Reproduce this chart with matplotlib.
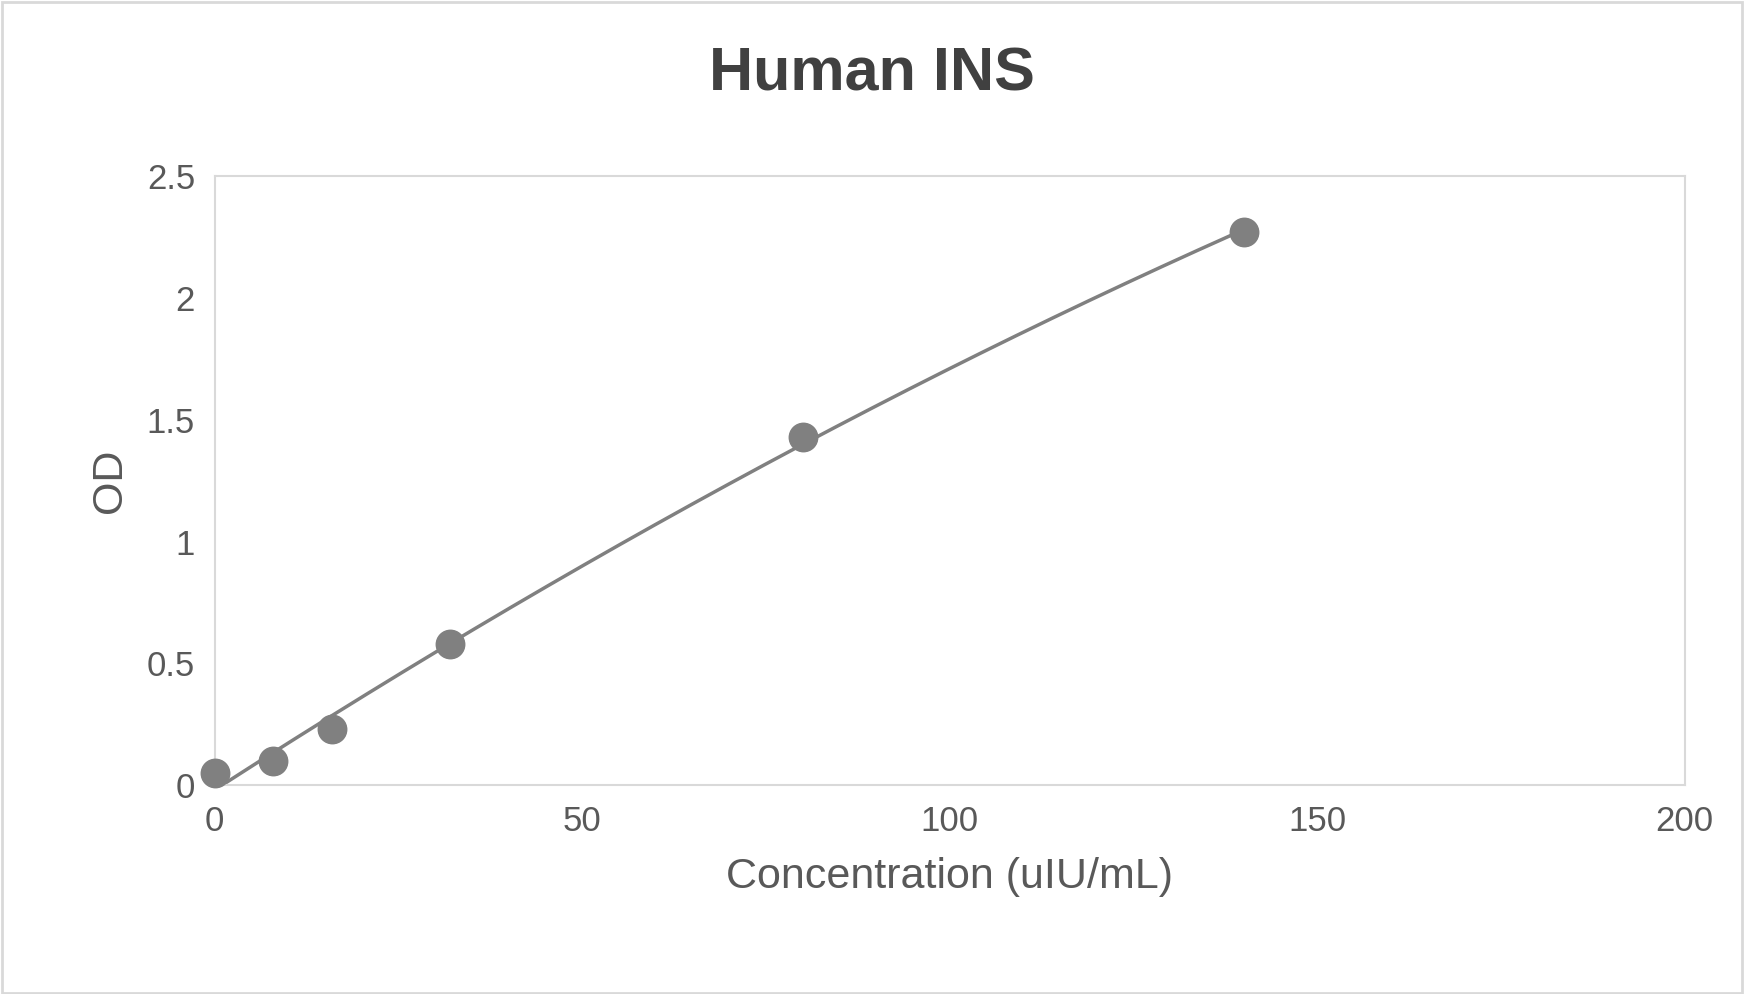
import numpy as np
import matplotlib
matplotlib.use("Agg")
import matplotlib.pyplot as plt
from matplotlib.patches import Rectangle

conc = [0, 8, 16, 32, 80, 140]
od = [0.05, 0.10, 0.23, 0.58, 1.43, 2.27]

plt.rcParams['font.family'] = ['Liberation Sans', 'DejaVu Sans']
fig = plt.figure(figsize=(17.44, 9.94), dpi=100)
fig.patches.append(Rectangle((0.001, 0.001), 0.998, 0.997, transform=fig.transFigure,
                             fill=False, edgecolor='#d9d9d9', lw=2))
ax = fig.add_axes([0.123, 0.210, 0.843, 0.613])

coef = np.polyfit(conc, od, 2)
xs = np.linspace(0, max(conc), 400)
ys = np.polyval(coef, xs)
m = ys >= 0
ax.plot(xs[m], ys[m], color='#808080', lw=2.5, zorder=2)
ax.scatter(conc, od, s=420, color='#808080', zorder=3, clip_on=False)

ax.set_xlim(0, 200)
ax.set_ylim(0, 2.5)
ax.set_xticks([0, 50, 100, 150, 200])
ax.set_yticks([0, 0.5, 1, 1.5, 2, 2.5])
ax.set_yticklabels(['0', '0.5', '1', '1.5', '2', '2.5'])
for s in ax.spines.values():
    s.set_color('#d9d9d9')
    s.set_linewidth(1.5)
ax.tick_params(length=0, labelsize=25, colors='#595959', pad=14)
ax.set_xlabel('Concentration (uIU/mL)', fontsize=31, color='#595959', labelpad=14)
ax.set_ylabel('OD', fontsize=31, color='#595959', labelpad=12)
fig.text(0.5, 0.925, 'Human INS', ha='center', va='center', fontsize=44,
         fontweight='bold', color='#404040')
fig.savefig('out.png', dpi=100)
